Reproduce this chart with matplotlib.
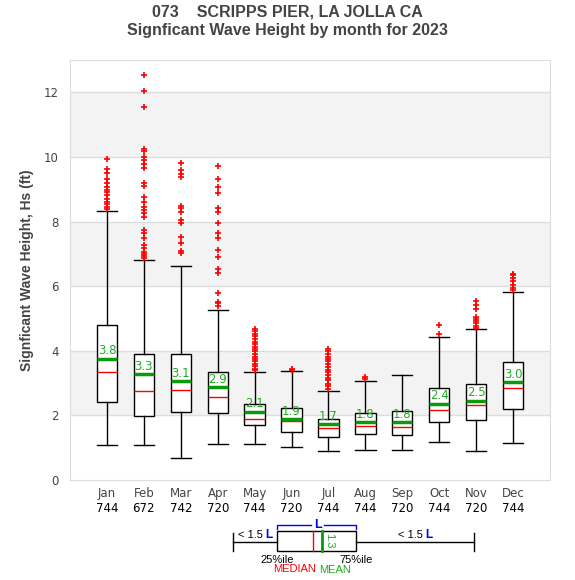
import matplotlib
matplotlib.use("Agg")
import matplotlib.pyplot as plt
from matplotlib.lines import Line2D
from matplotlib.patches import Rectangle

plt.rcParams['font.family'] = ['Liberation Sans', 'DejaVu Sans']

months = ["Jan", "Feb", "Mar", "Apr", "May", "Jun", "Jul", "Aug", "Sep", "Oct", "Nov", "Dec"]
counts = [744, 672, 742, 720, 744, 720, 744, 744, 720, 744, 720, 744]
q1 = [2.40, 1.98, 2.09, 2.06, 1.70, 1.49, 1.32, 1.41, 1.38, 1.79, 1.85, 2.19]
med = [3.33, 2.75, 2.78, 2.57, 1.88, 1.83, 1.60, 1.67, 1.64, 2.16, 2.32, 2.85]
q3 = [4.79, 3.89, 3.89, 3.33, 2.34, 2.22, 1.88, 2.06, 2.13, 2.85, 2.96, 3.64]
means = [3.76, 3.27, 3.06, 2.87, 2.12, 1.88, 1.72, 1.78, 1.78, 2.36, 2.46, 3.02]
whislo = [1.07, 1.07, 0.67, 1.11, 1.11, 1.01, 0.89, 0.92, 0.92, 1.17, 0.89, 1.14]
whishi = [8.33, 6.80, 6.63, 5.25, 3.33, 3.36, 2.75, 3.06, 3.24, 4.42, 4.67, 5.81]
fliers = [
    [9.94, 9.64, 9.49, 9.32, 9.18, 9.08, 8.98, 8.90, 8.82, 8.69, 8.62, 8.54, 8.46, 8.39],
    [12.53, 12.03, 11.54, 10.24, 10.17, 10.01, 9.91, 9.78, 9.65, 9.18, 9.10, 8.77, 8.62,
     8.46, 8.36, 8.26, 8.15, 7.74, 7.64, 7.50, 7.28, 7.17, 7.07, 7.00, 6.92, 6.86],
    [9.80, 9.60, 9.46, 9.37, 8.49, 8.41, 8.31, 8.05, 7.97, 7.51, 7.33, 7.10, 7.02],
    [9.71, 9.32, 9.06, 8.88, 8.41, 8.31, 7.97, 7.64, 7.48, 7.12, 6.89, 6.52, 6.40,
     5.78, 5.52, 5.47, 5.39],
    [4.68, 4.60, 4.52, 4.45, 4.35, 4.28, 4.20, 4.12, 4.05, 3.98, 3.90, 3.82, 3.75,
     3.68, 3.60, 3.52, 3.45, 3.40],
    [3.40, 3.43],
    [4.05, 3.98, 3.90, 3.82, 3.75, 3.68, 3.60, 3.50, 3.42, 3.35, 3.25, 3.15, 3.08,
     2.98, 2.90, 2.82],
    [3.12, 3.20],
    [],
    [4.51, 4.79],
    [4.72, 4.78, 4.85, 4.92, 4.98, 5.05, 5.30, 5.42, 5.55],
    [5.88, 5.95, 6.05, 6.15, 6.25, 6.33, 6.39],
]
yticks = [0, 2, 4, 6, 8, 10, 12]

fig = plt.figure(figsize=(5.75, 5.8), dpi=100)
ax = fig.add_axes([70 / 575, 100 / 580, 480 / 575, 420 / 580])

for lo in (2, 6, 10):
    ax.axhspan(lo, lo + 2, color="#f3f3f3", zorder=0, lw=0)
for y in yticks[1:]:
    ax.axhline(y, color="#dddddd", lw=1, zorder=0.5)

stats = []
for i in range(12):
    stats.append(dict(label=months[i], q1=q1[i], med=med[i], q3=q3[i], mean=means[i],
                      whislo=whislo[i], whishi=whishi[i], fliers=fliers[i]))
pos = list(range(1, 13))
ax.bxp(stats, positions=pos, widths=0.55, showmeans=True, meanline=True,
       patch_artist=True, capwidths=0.55,
       boxprops=dict(facecolor="white", edgecolor="black", lw=1),
       whiskerprops=dict(color="black", lw=1),
       capprops=dict(color="black", lw=1),
       medianprops=dict(color="red", lw=1),
       meanprops=dict(color="#0a9a0a", lw=2.5, linestyle="-"),
       flierprops=dict(marker="+", markeredgecolor="red", markersize=5, markeredgewidth=1.2))
for p, m in zip(pos, means):
    ax.text(p, m + 0.05, f"{m:.1f}", color="#22aa22", fontsize=8.5, family="DejaVu Sans",
            ha="center", va="bottom", zorder=5)

ax.set_xlim(0, 13)
ax.set_ylim(0, 13)
ax.set_yticks(yticks)
ax.set_yticklabels([str(v) for v in yticks], color="#444444", fontsize=8.5, family="DejaVu Sans")
ax.set_xticks(pos)
ax.set_xticklabels(months, color="#444444", fontsize=8.5, family="DejaVu Sans")
ax.tick_params(axis="x", length=0, pad=5)
ax.tick_params(axis="y", length=0, pad=8)
for p, c in zip(pos, counts):
    ax.text(p, -0.88, str(c), ha="center", va="center", fontsize=8.5,
            family="DejaVu Sans", color="black")
for s in ax.spines.values():
    s.set_color("#dddddd")
ax.set_ylabel("Signficant Wave Height, Hs (ft)", fontsize=10, fontweight="bold",
              color="#444444", labelpad=7)

fig.text(0.5, 1 - 12 / 580, "073    SCRIPPS PIER, LA JOLLA CA", ha="center", va="center",
         fontsize=11.5, fontweight="bold", color="#444444")
fig.text(0.5, 1 - 30 / 580, "Signficant Wave Height by month for 2023", ha="center",
         va="center", fontsize=11.5, fontweight="bold", color="#444444")

# key diagram in pixel coordinates
k = fig.add_axes([0, 0, 1, 1], facecolor="none")
k.set_xlim(0, 575)
k.set_ylim(580, 0)
k.axis("off")
k.add_line(Line2D([233, 277], [542, 542], color="black", lw=1))
k.add_line(Line2D([356, 474], [542, 542], color="black", lw=1))
k.add_line(Line2D([233, 233], [533, 551], color="black", lw=1))
k.add_line(Line2D([474, 474], [533, 551], color="black", lw=1))
k.add_patch(Rectangle((277, 531), 79, 20, fill=False, ec="black", lw=1))
k.add_line(Line2D([313, 313], [531, 551], color="red", lw=1))
k.add_line(Line2D([321.5, 321.5], [531, 551], color="#0a9a0a", lw=2))
k.text(329, 541, "1.3", rotation=270, color="#22aa22", fontsize=8, ha="center", va="center")
k.add_line(Line2D([277, 277, 311], [529, 525, 525], color="blue", lw=1))
k.add_line(Line2D([324, 356, 356], [525, 525, 529], color="blue", lw=1))
k.text(317.5, 525, "L", color="blue", fontsize=9, fontweight="bold", ha="center", va="center")
for x0 in (238, 398):
    k.text(x0, 535, "< 1.5 ", color="black", fontsize=8, ha="left", va="center")
    k.text(x0 + 27, 535, "L", color="blue", fontsize=8.5, fontweight="bold", ha="left", va="center")
k.text(277, 560, "25%ile", color="black", fontsize=8, ha="center", va="center")
k.text(356, 560, "75%ile", color="black", fontsize=8, ha="center", va="center")
k.text(295, 569, "MEDIAN", color="red", fontsize=8, ha="center", va="center")
k.text(335, 570, "MEAN", color="#22aa22", fontsize=8, ha="center", va="center")

fig.savefig("out.png", dpi=100)
